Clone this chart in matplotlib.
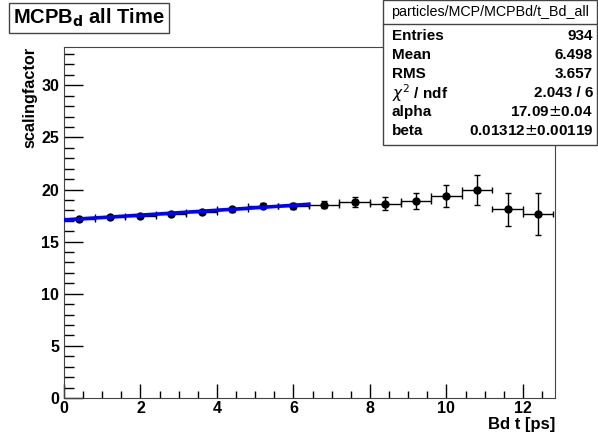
import numpy as np
import matplotlib
matplotlib.use("Agg")
import matplotlib.pyplot as plt
from matplotlib.ticker import MultipleLocator

plt.rcParams['font.family'] = ['Liberation Sans', 'DejaVu Sans']

# histogram bins (width 0.8 ps)
t_centers = [0.4, 1.2, 2.0, 2.8, 3.6, 4.4, 5.2, 6.0, 6.8, 7.6, 8.4, 9.2, 10.0, 10.8, 11.6, 12.4]
scale = [17.13, 17.35, 17.45, 17.67, 17.86, 18.09, 18.44, 18.41,
         18.53, 18.76, 18.63, 18.92, 19.34, 19.94, 18.09, 17.64]
scale_err = [0.15, 0.15, 0.17, 0.18, 0.2, 0.22, 0.25, 0.28,
             0.35, 0.48, 0.62, 0.77, 1.05, 1.41, 1.56, 2.01]
bin_half = 0.4

# fit: alpha * exp(beta * t) over 0..6.4
alpha = 17.09
beta = 0.01312
fit_range = (0.0, 6.4)

stats_rows = [("Entries", "934"), ("Mean", "6.498"), ("RMS", "3.657"),
              (r"$\chi^2$ / ndf", "2.043 / 6"), ("alpha", r"17.09$\pm$0.04"),
              ("beta", r"0.01312$\pm$0.00119")]

fig = plt.figure(figsize=(5.98, 4.37), dpi=100)
ax = fig.add_axes([64/598, 39/437, 491/598, 351.3/437])

ax.errorbar(t_centers, scale, yerr=scale_err, xerr=bin_half, fmt='o', color='black',
            ms=5, elinewidth=1, capsize=2.5, capthick=1, zorder=2)
tf = np.linspace(fit_range[0], fit_range[1], 100)
ax.plot(tf, alpha*np.exp(beta*tf), color='#0000ff', lw=2.6, zorder=3)

ax.set_xlim(0, 12.84)
ax.set_ylim(0, 33.7)
ax.xaxis.set_major_locator(MultipleLocator(2))
ax.xaxis.set_minor_locator(MultipleLocator(0.5))
ax.yaxis.set_major_locator(MultipleLocator(5))
ax.yaxis.set_minor_locator(MultipleLocator(1))
ax.tick_params(which='both', direction='in', top=False, right=False, labelsize=11.5)
ax.tick_params(which='major', length=14, width=1)
ax.tick_params(which='minor', length=7, width=1)
ax.tick_params(axis='x', which='major', length=10, pad=2)
ax.tick_params(axis='x', which='minor', length=5)
for lab in ax.get_xticklabels() + ax.get_yticklabels():
    lab.set_fontweight('bold')
for s in ax.spines.values():
    s.set_color('#444444')

ax.set_xlabel("Bd t [ps]", fontsize=12, fontweight='bold', loc='right', labelpad=1)
ax.set_ylabel("scalingfactor", fontsize=11.7, fontweight='bold', loc='top', labelpad=3)

# title box
fig.text(13/598, 1 - 18/437, r"MCPB$_\mathbf{d}$ all Time", fontsize=14.5, fontweight='bold',
         va='center', ha='left',
         bbox=dict(boxstyle='square,pad=0.2', fc='white', ec='#444444', lw=1))

# stats box
bx0, by0, bw, bh = 383/598, 1 - 145/437, 214/598, 145/437
fig.patches.append(plt.Rectangle((bx0, by0), bw, bh, transform=fig.transFigure,
                                 fc='white', ec='#444444', lw=1))
fig.lines.append(plt.Line2D([bx0, bx0 + bw], [1 - 24/437] * 2, transform=fig.transFigure,
                            color='#444444', lw=1))
fig.text(bx0 + bw/2, 1 - 12/437, "particles/MCP/MCPBd/t_Bd_all", fontsize=10.3,
         ha='center', va='center')
for i, (k, v) in enumerate(stats_rows):
    y = 1 - (36 + i*19)/437
    fig.text(392/598, y, k, fontsize=11, fontweight='bold', va='center', ha='left')
    fig.text(593/598, y, v, fontsize=11, fontweight='bold', va='center', ha='right')

fig.savefig("out.png", dpi=100)
